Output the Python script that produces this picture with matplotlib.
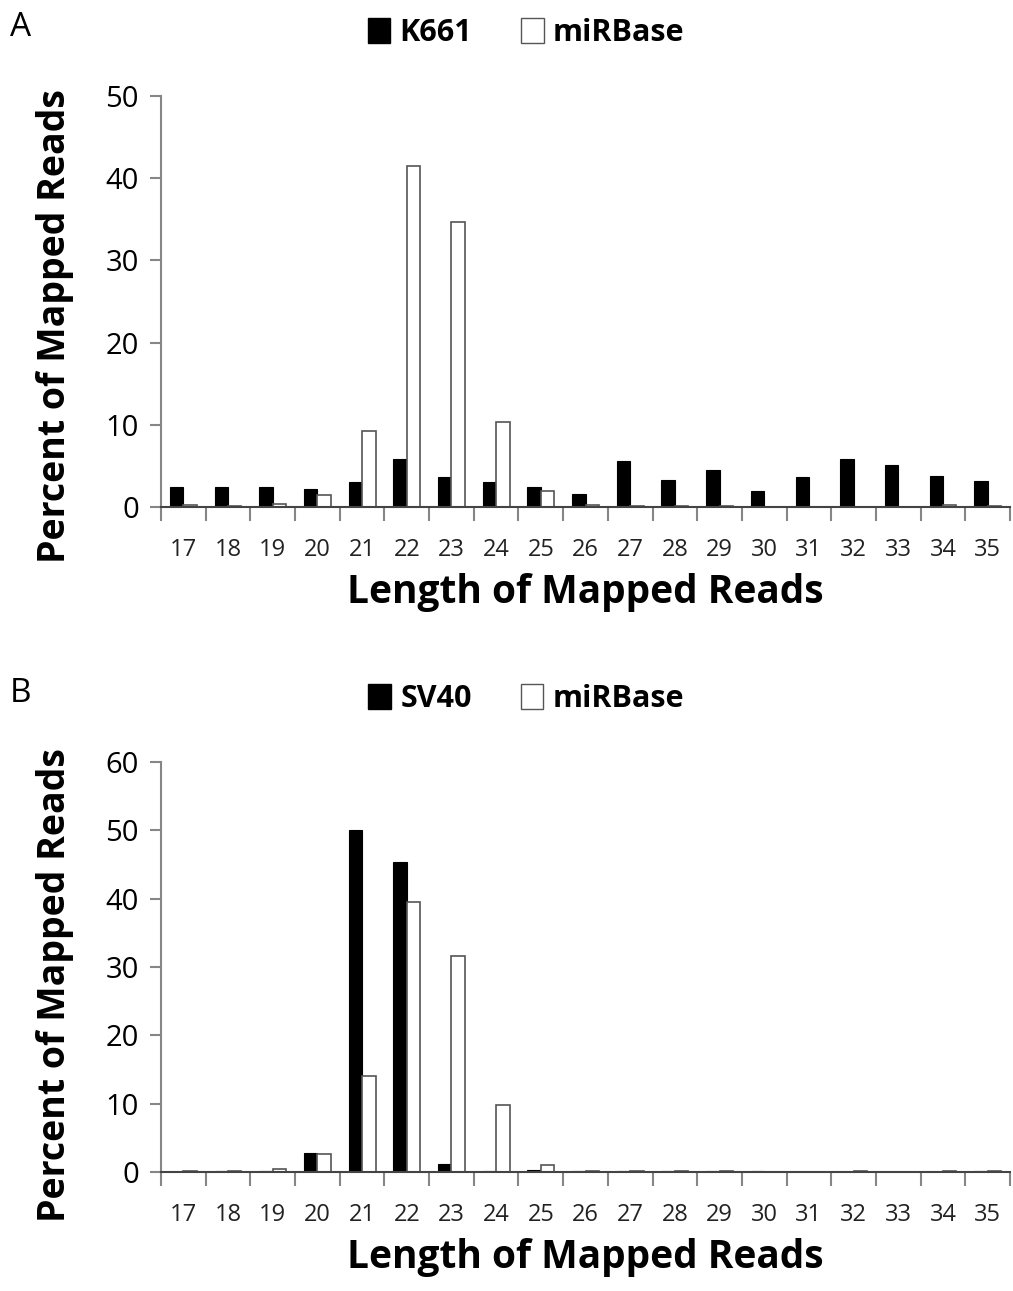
import numpy as np
import matplotlib.pyplot as plt
from matplotlib.patches import Patch

plt.rcParams['font.family'] = ['Open Sans', 'DejaVu Sans']

lengths = [17, 18, 19, 20, 21, 22, 23, 24, 25, 26, 27, 28, 29, 30, 31, 32, 33, 34, 35]

k661 = [2.4, 2.4, 2.4, 2.2, 3.0, 5.8, 3.7, 3.0, 2.4, 1.6, 5.6, 3.3, 4.5, 2.0, 3.7, 5.8, 5.1, 3.8, 3.1]
mirbase_a = [0.2, 0.1, 0.4, 1.4, 9.2, 41.5, 34.7, 10.4, 1.9, 0.3, 0.1, 0.1, 0.1, 0.05, 0.05, 0.05, 0.05, 0.2, 0.1]

sv40 = [0.0, 0.2, 0.2, 2.8, 50.0, 45.3, 1.1, 0.2, 0.3, 0.2, 0.2, 0.2, 0.2, 0.2, 0.0, 0.0, 0.0, 0.0, 0.2]
mirbase_b = [0.2, 0.2, 0.5, 2.6, 14.0, 39.5, 31.6, 9.8, 1.0, 0.1, 0.2, 0.2, 0.2, 0.05, 0.0, 0.2, 0.0, 0.2, 0.2]

grey = '#868686'
fig = plt.figure(figsize=(10.13, 12.91), dpi=100)


def panel(rect, black, white, name, ymax, letter, label_y):
    ax = fig.add_axes(rect)
    x = np.arange(len(lengths))
    w = 0.3
    ax.bar(x - w / 2, black, w, color='black', edgecolor='black', linewidth=0.8)
    ax.bar(x + w / 2, white, w, color='white', edgecolor='#555555', linewidth=1.2)
    ax.set_xlim(-0.5, len(lengths) - 0.5)
    ax.set_ylim(0, ymax)
    ax.set_yticks(np.arange(0, ymax + 1, 10))
    ax.set_xticks(x)
    ax.set_xticklabels(lengths)
    ax.set_xticks(np.arange(-0.5, len(lengths)), minor=True)
    ax.tick_params(axis='x', which='major', length=0, pad=22, labelsize=17, colors='#222222')
    ax.tick_params(axis='x', which='minor', length=10, width=1.5, color=grey, direction='out')
    ax.tick_params(axis='y', length=8, width=1.5, color=grey, labelsize=21, pad=8)
    for s in ['top', 'right']:
        ax.spines[s].set_visible(False)
    ax.spines['left'].set_color(grey)
    ax.spines['left'].set_linewidth(1.5)
    ax.spines['bottom'].set_color('#444444')
    ax.spines['bottom'].set_linewidth(1.5)
    ax.set_xlabel('Length of Mapped Reads', fontsize=28, fontweight='bold', labelpad=8)
    ax.set_ylabel('Percent of Mapped Reads', fontsize=27, fontweight='bold')
    ax.yaxis.set_label_coords(-0.103, label_y)
    handles = [Patch(facecolor='black', edgecolor='black', label=name),
               Patch(facecolor='white', edgecolor='#555555', label='miRBase')]
    ax.legend(handles=handles, loc='lower center', bbox_to_anchor=(0.43, 1.05),
              ncol=2, frameon=False, handlelength=0.75, handleheight=0.85,
              handletextpad=0.3, columnspacing=1.6, prop={'weight': 'bold', 'size': 22})
    fig.text(0.01, rect[1] + rect[3] + 0.053, letter, fontsize=24, va='center', ha='left')
    return ax


panel([0.159, 0.6073, 0.838, 0.3183], k661, mirbase_a, 'K661', 50, 'A', 0.44)
panel([0.159, 0.0922, 0.838, 0.3176], sv40, mirbase_b, 'SV40', 60, 'B', 0.456)

fig.savefig('out.png', dpi=100)
